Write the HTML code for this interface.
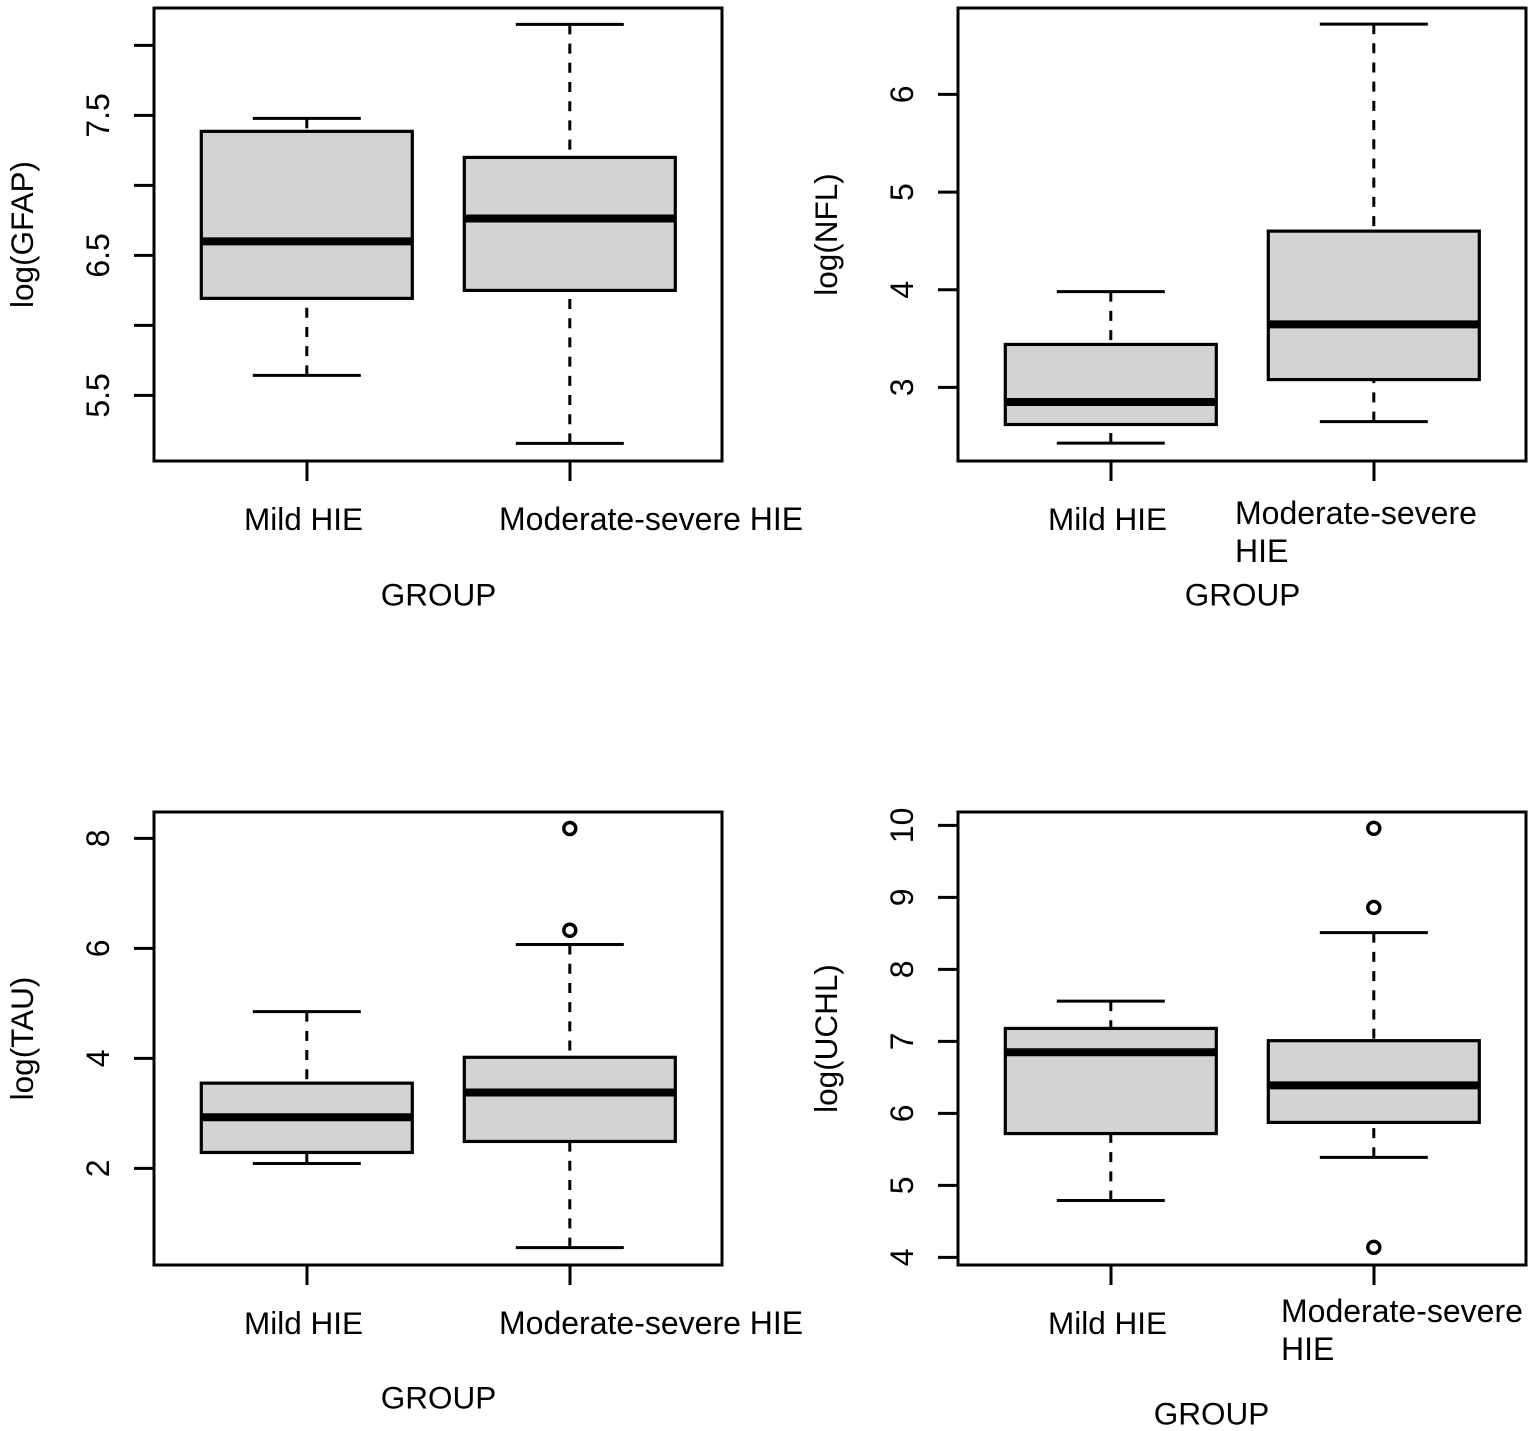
<!DOCTYPE html>
<html>
<head>
<meta charset="utf-8">
<title>Biomarker boxplots by HIE group</title>
<style>
html,body{margin:0;padding:0;background:#fff}
svg{display:block}
text{font-family:"Liberation Sans",Arial,sans-serif;fill:#000;font-size:32px}
text.small{font-size:31.5px}
</style>
</head>
<body>
<svg id="chart" xmlns="http://www.w3.org/2000/svg" width="1535" height="1431" viewBox="0 0 1535 1431"></svg>
<script>
// Category labels
const groups = ['Mild HIE', 'Moderate-severe HIE'];
const xTitle = 'GROUP';

// Five-number summaries: [whisker low, q1, median, q3, whisker high]
const gfapMild = [5.643, 6.193, 6.6, 7.386, 7.479];
const gfapModerate = [5.157, 6.25, 6.764, 7.2, 8.15];
const gfapOutliers = [[], []];
const gfapTicks = [5.5, 6, 6.5, 7, 7.5, 8];
const gfapTickLabels = ['5.5', '', '6.5', '', '7.5', ''];

const nflMild = [2.43, 2.62, 2.85, 3.44, 3.98];
const nflModerate = [2.65, 3.08, 3.645, 4.6, 6.72];
const nflOutliers = [[], []];
const nflTicks = [3, 4, 5, 6];
const nflTickLabels = ['3', '4', '5', '6'];

const tauMild = [2.09, 2.29, 2.93, 3.55, 4.85];
const tauModerate = [0.56, 2.49, 3.38, 4.02, 6.07];
const tauOutliers = [[], [6.33, 8.18]];
const tauTicks = [2, 4, 6, 8];
const tauTickLabels = ['2', '4', '6', '8'];

const uchlMild = [4.79, 5.72, 6.85, 7.18, 7.56];
const uchlModerate = [5.39, 5.875, 6.39, 7.01, 8.51];
const uchlOutliers = [[], [4.14, 8.86, 9.96]];
const uchlTicks = [4, 5, 6, 7, 8, 9, 10];
const uchlTickLabels = ['4', '5', '6', '7', '8', '9', '10'];

const NS = 'http://www.w3.org/2000/svg';
const svg = document.getElementById('chart');

function make(parent, tag, attrs, name, text) {
  const el = document.createElementNS(NS, tag);
  for (const k in attrs) el.setAttribute(k, attrs[k]);
  
  
  if (text !== undefined) el.textContent = text;
  parent.appendChild(el);
  return el;
}

function drawPanel(p) {
  const g = make(svg, 'g', {}, p.key + '-panel');
  const L = p.left, R = p.left + 568, T = p.top, B = p.top + 453;
  // y axis function: linear through two calibration values
  const y = v => 0.4 + p.y0 + (v - p.v0) * (p.y1 - p.y0) / (p.v1 - p.v0);
  const centers = [L + 153, L + 416];
  const x = i => centers[i];
  const boxHalf = 105.5, capHalf = 54;

  p.series.forEach((s, i) => {
    const [lo, q1, med, q3, hi] = s;
    const c = x(i) - 0.2;
    const sg = make(g, 'g', {}, p.key + '-box-' + (i === 0 ? 'mild' : 'moderate-severe'));
    const dash = {stroke: '#000', 'stroke-width': 3, 'stroke-dasharray': '10 9.2', fill: 'none'};
    make(sg, 'line', Object.assign({x1: c, x2: c, y1: y(hi), y2: y(q3)}, dash), 'upper-whisker');
    make(sg, 'line', Object.assign({x1: c, x2: c, y1: y(lo), y2: y(q1)}, dash), 'lower-whisker');
    make(sg, 'line', {x1: c - capHalf, x2: c + capHalf, y1: y(hi), y2: y(hi), stroke: '#000', 'stroke-width': 3}, 'upper-cap');
    make(sg, 'line', {x1: c - capHalf, x2: c + capHalf, y1: y(lo), y2: y(lo), stroke: '#000', 'stroke-width': 3}, 'lower-cap');
    make(sg, 'rect', {x: c - boxHalf, y: y(q3), width: boxHalf * 2, height: y(q1) - y(q3), fill: '#d3d3d3', stroke: '#000', 'stroke-width': 3.2}, 'iqr-box');
    make(sg, 'line', {x1: c - boxHalf, x2: c + boxHalf, y1: y(med), y2: y(med), stroke: '#000', 'stroke-width': 8}, 'median-line');
    p.outliers[i].forEach(v => {
      make(sg, 'circle', {cx: c, cy: y(v), r: 6, fill: 'none', stroke: '#000', 'stroke-width': 3.4}, 'outlier-point');
    });
  });

  make(g, 'rect', {x: L, y: T, width: R - L, height: B - T, fill: 'none', stroke: '#000', 'stroke-width': 3}, p.key + '-plot-frame');

  // y ticks
  p.ticks.forEach((v, i) => {
    const py = y(v);
    make(g, 'line', {x1: L - 20, x2: L, y1: py, y2: py, stroke: '#000', 'stroke-width': 3}, p.key + '-y-tick');
    if (p.tickLabels[i]) {
      make(g, 'text', {x: 0, y: 0, 'text-anchor': 'middle', transform: 'translate(' + (L - 45) + ' ' + py + ') rotate(-90)'}, p.key + '-y-tick-label', p.tickLabels[i]);
    }
  });

  // x ticks and labels
  centers.forEach(c => {
    make(g, 'line', {x1: c, x2: c, y1: B, y2: B + 20, stroke: '#000', 'stroke-width': 3}, p.key + '-x-tick');
  });
  make(g, 'text', {x: L + 90, y: B + 69, class: 'small'}, p.key + '-x-label-mild', groups[0]);
  if (p.wrapX === null) {
    make(g, 'text', {x: L + 345, y: B + 69}, p.key + '-x-label-moderate-severe', groups[1]);
  } else {
    const words = groups[1].split(' ');
    make(g, 'text', {x: p.wrapX, y: B + p.wrapDy}, p.key + '-x-label-moderate-severe-line1', words[0]);
    make(g, 'text', {x: p.wrapX, y: B + p.wrapDy + 38}, p.key + '-x-label-moderate-severe-line2', words[1]);
  }
  make(g, 'text', {x: p.xTitleX, y: p.xTitleY, 'text-anchor': 'middle', class: 'small'}, p.key + '-x-axis-title', xTitle);
  make(g, 'text', {x: 0, y: 0, 'text-anchor': 'middle', class: 'small', transform: 'translate(' + (L - 121) + ' ' + p.yTitleY + ') rotate(-90)'}, p.key + '-y-axis-title', p.yTitle);
}

drawPanel({key: 'gfap', left: 154, top: 8, v0: 5.5, y0: 395, v1: 7.5, y1: 115,
  series: [gfapMild, gfapModerate], outliers: gfapOutliers, ticks: gfapTicks, tickLabels: gfapTickLabels,
  yTitle: 'log(GFAP)', yTitleY: 234.5, wrapX: null, wrapDy: 0, xTitleX: 438.5, xTitleY: 605.5});
drawPanel({key: 'nfl', left: 958, top: 8, v0: 3, y0: 387, v1: 6, y1: 94,
  series: [nflMild, nflModerate], outliers: nflOutliers, ticks: nflTicks, tickLabels: nflTickLabels,
  yTitle: 'log(NFL)', yTitleY: 234.5, wrapX: 1235, wrapDy: 63, xTitleX: 1242.5, xTitleY: 605.5});
drawPanel({key: 'tau', left: 154, top: 812, v0: 2, y0: 1168, v1: 8, y1: 838,
  series: [tauMild, tauModerate], outliers: tauOutliers, ticks: tauTicks, tickLabels: tauTickLabels,
  yTitle: 'log(TAU)', yTitleY: 1038.5, wrapX: null, wrapDy: 0, xTitleX: 438.5, xTitleY: 1408.5});
drawPanel({key: 'uchl', left: 958, top: 812, v0: 4, y0: 1257, v1: 10, y1: 825,
  series: [uchlMild, uchlModerate], outliers: uchlOutliers, ticks: uchlTicks, tickLabels: uchlTickLabels,
  yTitle: 'log(UCHL)', yTitleY: 1038.5, wrapX: 1281, wrapDy: 57, xTitleX: 1211.5, xTitleY: 1424.5});
</script>
</body>
</html>
